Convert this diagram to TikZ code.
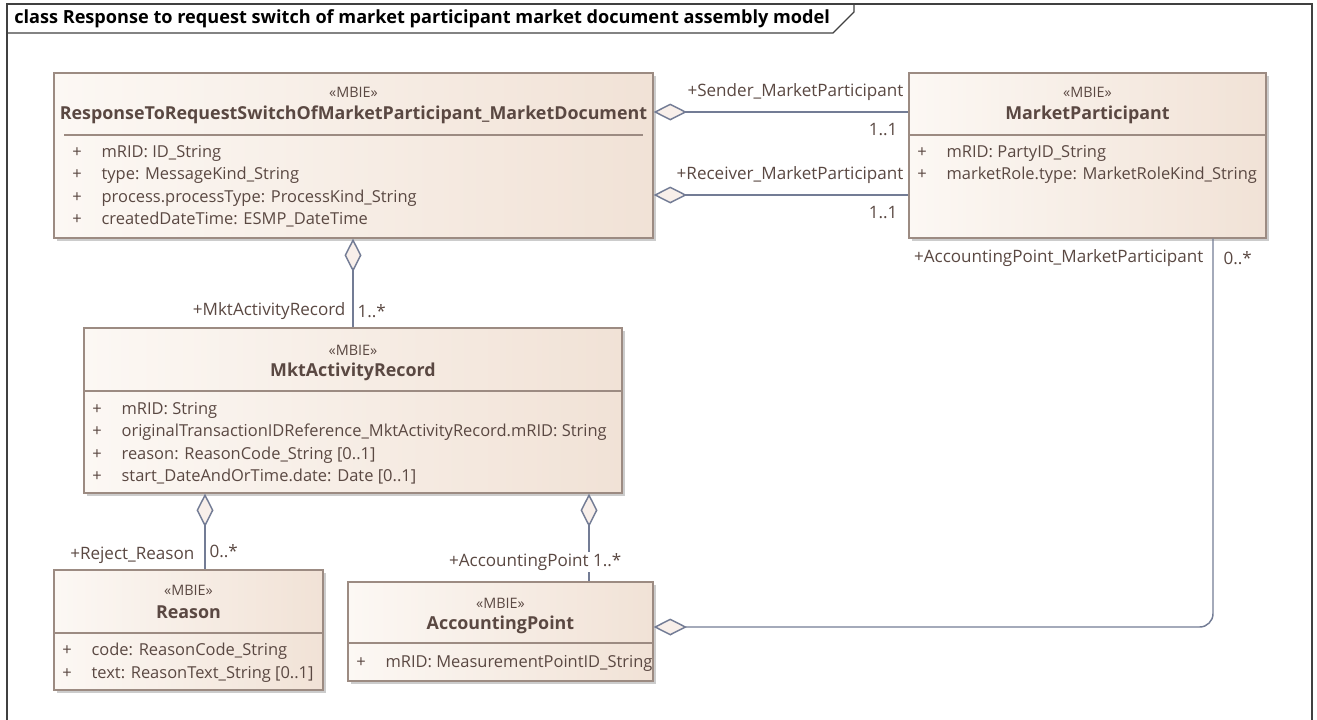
\documentclass[tikz,border=0pt]{standalone}
\usepackage{fontspec}
\setmainfont{Open Sans}
\usetikzlibrary{arrows.meta, positioning, fit, shadows}
\definecolor{boxlight}{HTML}{FCF8F4}
\definecolor{boxdark}{HTML}{F1E2D6}
\definecolor{boxedge}{HTML}{9C8B82}
\definecolor{assocline}{HTML}{737C95}
\definecolor{diafill}{HTML}{F8EFEA}
\definecolor{ink}{HTML}{5A4842}
\newcommand{\attrplus}{\makebox[22pt][l]{+}}

\begin{document}
\begin{tikzpicture}[x=0.75pt, y=-0.75pt,
    classbox/.style={draw=boxedge, line width=0.9pt, left color=boxlight, right color=boxdark, inner sep=0pt,
        drop shadow={shadow xshift=2.2pt, shadow yshift=-2.2pt, fill=black!40, opacity=0.5}},
    stereo/.style={font=\fontsize{10.8}{13}\selectfont, text=ink, inner sep=0pt},
    classname/.style={font=\fontsize{13.4}{16}\selectfont\bfseries, text=ink, inner sep=0pt},
    attrs/.style={font=\fontsize{12.35}{16.8}\selectfont, text=ink, align=left, anchor=north west, inner sep=0pt},
    sepline/.style={draw=boxedge, line width=0.9pt},
    assoc/.style={draw=assocline, line width=1.1pt},
    rolelabel/.style={font=\fontsize{12.8}{14}\selectfont, text=ink, inner sep=1pt},
    frameline/.style={draw=black!75, line width=0.9pt},
    aggdiamond/.tip={Diamond[length=25pt, width=12.75pt, fill=diafill]},
]
\useasboundingbox (0,0) rectangle (1317,719);

% Frame and title tab
\draw[frameline] (7,730) -- (7,4) -- (1312,4) -- (1312,730);
\draw[frameline] (7,33) -- (833,33) -- (854,12) -- (854,4);
\node[font=\fontsize{13.6}{16}\selectfont\bfseries, anchor=west, inner sep=0pt] (title) at (14,19)
    {class Response to request switch of market participant market document assembly model};

% Market document
\node[classbox, fit={(54,73) (653,238)}] (doc) {};
\node[stereo] at (353.5,92) {«MBIE»};
\node[classname] at (353.5,115) {ResponseToRequestSwitchOfMarketParticipant\_MarketDocument};
\draw[sepline] (64,135) -- (643,135);
\node[attrs] at (72,145) {\attrplus mRID: ID\_String\\
    \attrplus type: MessageKind\_String\\
    \attrplus process.processType: ProcessKind\_String\\
    \attrplus createdDateTime: ESMP\_DateTime};

% Market participant
\node[classbox, fit={(909,73) (1266,238)}] (participant) {};
\node[stereo] at (1087.5,92) {«MBIE»};
\node[classname] at (1087.5,115) {MarketParticipant};
\draw[sepline] (909,135) -- (1266,135);
\node[attrs] at (917,145) {\attrplus mRID: PartyID\_String\\
    \attrplus marketRole.type: MarketRoleKind\_String};

% Activity record
\node[classbox, fit={(84,328) (622,493)}] (record) {};
\node[stereo] at (353,350) {«MBIE»};
\node[classname] at (353,372) {MktActivityRecord};
\draw[sepline] (84,391) -- (622,391);
\node[attrs] at (92,402) {\attrplus mRID: String\\
    \attrplus originalTransactionIDReference\_MktActivityRecord.mRID: String\\
    \attrplus reason: ReasonCode\_String [0..1]\\
    \attrplus start\_DateAndOrTime.date: Date [0..1]};

% Reason
\node[classbox, fit={(54,570) (323,690)}] (reason) {};
\node[stereo] at (188.5,590) {«MBIE»};
\node[classname] at (188.5,612) {Reason};
\draw[sepline] (54,633) -- (323,633);
\node[attrs] at (62,643) {\attrplus code: ReasonCode\_String\\
    \attrplus text: ReasonText\_String [0..1]};

% Accounting point
\node[classbox, fit={(348,582) (653,681)}] (point) {};
\node[stereo] at (500.5,603) {«MBIE»};
\node[classname] at (500.5,625) {AccountingPoint};
\draw[sepline] (348,643) -- (653,643);
\node[attrs] at (356,655) {\attrplus mRID: MeasurementPointID\_String};

% Associations
\draw[assoc, aggdiamond-] (doc.east |- 0,112) -- (participant.west |- 0,112);
\draw[assoc, aggdiamond-] (doc.east |- 0,195) -- (participant.west |- 0,195);
\draw[assoc, aggdiamond-] (record.north |- doc.south) -- (record.north);
\draw[assoc, aggdiamond-] (record.south -| 205,0) -- (reason.north -| 205,0);
\draw[assoc, aggdiamond-] (record.south -| 589,0) -- (point.north -| 589,0);
\draw[assoc, aggdiamond-, rounded corners=10pt] (point.east |- 0,627) -| (participant.south -| 1213,0);

% Role names and multiplicities
\node[rolelabel, anchor=east] at (905,92) {+Sender\_MarketParticipant};
\node[rolelabel, anchor=east] at (899,130) {1..1};
\node[rolelabel, anchor=east] at (905,175) {+Receiver\_MarketParticipant};
\node[rolelabel, anchor=east] at (899,213) {1..1};
\node[rolelabel, anchor=east] at (1205,258) {+AccountingPoint\_MarketParticipant};
\node[rolelabel, anchor=west] at (1222,258) {0..*};
\node[rolelabel, anchor=east] at (347,311) {+MktActivityRecord};
\node[rolelabel, anchor=west] at (356,311) {1..*};
\node[rolelabel, anchor=east] at (196,555) {+Reject\_Reason};
\node[rolelabel, anchor=west] at (208,551) {0..*};
\node[rolelabel, fill=white, anchor=east] at (623,562) {+AccountingPoint 1..*};
\end{tikzpicture}
\end{document}
